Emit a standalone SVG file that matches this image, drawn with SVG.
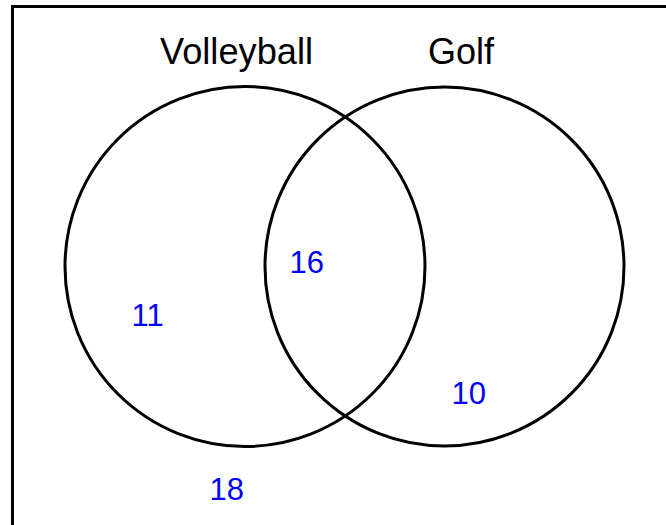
<svg xmlns="http://www.w3.org/2000/svg" width="666" height="525" viewBox="0 0 666 525">
<style>
.ring{fill:none;stroke:#000;stroke-width:3}
.lbl{font-family:"Liberation Sans",Arial,sans-serif;font-size:36px;fill:#000}
.num{font-family:"Liberation Sans",Arial,sans-serif;font-size:31px;fill:#0000ff}
</style>
<rect x="0" y="0" width="666" height="525" fill="#fff"/>
<rect x="12.5" y="6.5" width="700" height="600" fill="none" stroke="#000" stroke-width="3"/>
<g id="volleyball">
<circle class="ring" cx="245" cy="266.5" r="180"/>
<text class="lbl" x="160" y="64" textLength="153" lengthAdjust="spacingAndGlyphs">Volleyball</text>
</g>
<g id="golf">
<circle class="ring" cx="444.5" cy="266.5" r="179.5"/>
<text class="lbl" x="428" y="64">Golf</text>
</g>
<g id="counts">
<text class="num" x="131.5" y="326">11</text>
<text class="num" x="289.5" y="273">16</text>
<text class="num" x="451.5" y="404">10</text>
<text class="num" x="209.5" y="500">18</text>
</g>
<g id="connectors"></g>
</svg>
